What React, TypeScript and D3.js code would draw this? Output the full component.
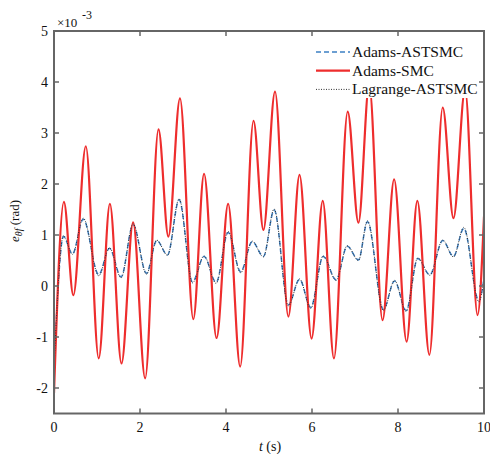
import React from "react";
import * as d3 from "d3";

// Time stamps (s) and tracking error values (×10^-3 rad) at the turning points of each response
const smcT = [0, 0.23, 0.45, 0.74, 1.04, 1.30, 1.57, 1.84, 2.12, 2.43, 2.66, 2.93, 3.24, 3.49, 3.78, 4.05, 4.33, 4.64, 4.87, 5.14, 5.45, 5.71, 5.99, 6.25, 6.51, 6.83, 7.08, 7.33, 7.64, 7.91, 8.20, 8.45, 8.73, 9.04, 9.29, 9.56, 9.85, 10];
const smcV = [-2.1, 1.65, -0.18, 2.74, -1.42, 1.61, -1.52, 1.25, -1.81, 3.07, 0.97, 3.68, -0.65, 2.20, -1.02, 1.61, -1.58, 3.24, 1.10, 3.81, -0.60, 2.18, -1.03, 1.67, -1.42, 3.42, 1.24, 3.95, -0.67, 2.09, -1.09, 1.67, -1.35, 3.50, 1.33, 3.85, -0.57, 1.36];

const adamsT = [0, 0.22, 0.43, 0.68, 1.04, 1.29, 1.56, 1.84, 2.15, 2.39, 2.64, 2.91, 3.22, 3.49, 3.77, 4.05, 4.34, 4.61, 4.87, 5.12, 5.45, 5.71, 5.97, 6.26, 6.56, 6.82, 7.08, 7.29, 7.66, 7.92, 8.19, 8.46, 8.74, 9.04, 9.29, 9.53, 9.88, 10];
const adamsV = [-1.58, 0.97, 0.63, 1.31, 0.22, 0.74, 0.18, 1.20, 0.25, 0.89, 0.61, 1.69, 0.08, 0.58, 0.07, 1.05, 0.28, 0.87, 0.58, 1.49, -0.37, 0.13, -0.42, 0.58, 0.12, 0.78, 0.51, 1.26, -0.46, 0.10, -0.48, 0.54, 0.22, 0.89, 0.58, 1.13, -0.29, 0.15];

const lagT = [0, 0.22, 0.43, 0.68, 1.04, 1.29, 1.56, 1.84, 2.15, 2.39, 2.64, 2.91, 3.22, 3.49, 3.77, 4.05, 4.34, 4.61, 4.87, 5.12, 5.45, 5.71, 5.97, 6.26, 6.56, 6.82, 7.08, 7.29, 7.66, 7.92, 8.19, 8.46, 8.74, 9.04, 9.29, 9.53, 9.88, 10];
const lagV = [-1.62, 0.99, 0.62, 1.33, 0.20, 0.75, 0.16, 1.22, 0.23, 0.90, 0.60, 1.71, 0.06, 0.59, 0.05, 1.07, 0.26, 0.88, 0.57, 1.51, -0.39, 0.14, -0.44, 0.59, 0.11, 0.79, 0.50, 1.28, -0.48, 0.11, -0.50, 0.55, 0.21, 0.90, 0.57, 1.15, -0.31, 0.14];

const xTicks = [0, 2, 4, 6, 8, 10];
const yTicks = [-2, -1, 0, 1, 2, 3, 4, 5];

const legendItems = [
  { label: "Adams-ASTSMC", color: "#3d80c4", width: 1.5, dash: "5,3" },
  { label: "Adams-SMC", color: "#ee2d2d", width: 2.2, dash: "" },
  { label: "Lagrange-ASTSMC", color: "#333333", width: 1, dash: "1,1.5" },
];

const W = 490;
const H = 454;
const left = 54;
const right = 484;
const top = 31;
const bottom = 413.5;

export default function App() {
  const x = d3.scaleLinear().domain([0, 10]).range([left, right]);
  const y = d3.scaleLinear().domain([-2.5, 5]).range([bottom, top]);

  const line = d3
    .line<[number, number]>()
    .x((d) => x(d[0]))
    .y((d) => y(d[1]))
    .curve(d3.curveMonotoneX);

  const zip = (t: number[], v: number[]) => t.map((ti, i) => [ti, v[i]] as [number, number]);

  const series = [
    { d: line(zip(adamsT, adamsV)), ...legendItems[0] },
    { d: line(zip(smcT, smcV)), ...legendItems[1] },
    { d: line(zip(lagT, lagV)), ...legendItems[2] },
  ];

  const font = "'Liberation Serif', 'Times New Roman', serif";
  const frame = "#666";
  const ink = "#111";
  const tickLen = 5;

  return (
    <svg width={W} height={H} style={{ position: "absolute", left: 0, top: 0 }} fontFamily={font}>
      <rect x={0} y={0} width={W} height={H} fill="#fff" />
      <defs>
        <clipPath id="plotArea">
          <rect x={left} y={top} width={right - left} height={bottom - top} />
        </clipPath>
      </defs>

      <g clipPath="url(#plotArea)">
        {series.map((s) => (
          <path
            key={s.label}
            d={s.d || ""}
            fill="none"
            stroke={s.color}
            strokeWidth={s.width}
            strokeDasharray={s.dash}
            strokeLinejoin="round"
          />
        ))}
      </g>

      {/* legend */}
      <g>
        <rect x={312} y={40} width={right - 313} height={58} fill="#fff" />
        {legendItems.map((it, i) => {
          const cy = 52 + i * 18.7;
          return (
            <g key={it.label}>
              <line
                x1={316}
                x2={350}
                y1={cy}
                y2={cy}
                stroke={it.color}
                strokeWidth={it.width}
                strokeDasharray={it.dash}
              />
              <text x={352} y={cy + 5} fontSize={15.5} fill={ink}>
                {it.label}
              </text>
            </g>
          );
        })}
      </g>

      {/* axes frame */}
      <rect x={left} y={top} width={right - left} height={bottom - top} fill="none" stroke={frame} strokeWidth={2} />

      {xTicks.map((t) => (
        <g key={"x" + t}>
          <line x1={x(t)} x2={x(t)} y1={bottom} y2={bottom - tickLen} stroke={frame} strokeWidth={1.5} />
          <line x1={x(t)} x2={x(t)} y1={top} y2={top + tickLen} stroke={frame} strokeWidth={1.5} />
          <text x={x(t)} y={432} fontSize={14} textAnchor="middle" fill={ink}>
            {t}
          </text>
        </g>
      ))}

      {yTicks.map((t) => (
        <g key={"y" + t}>
          <line x1={left} x2={left + tickLen} y1={y(t)} y2={y(t)} stroke={frame} strokeWidth={1.5} />
          <line x1={right} x2={right - tickLen} y1={y(t)} y2={y(t)} stroke={frame} strokeWidth={1.5} />
          <text x={48} y={y(t) + 5} fontSize={14} textAnchor="end" fill={ink}>
            {t}
          </text>
        </g>
      ))}

      {/* exponent */}
      <text x={57} y={27} fontSize={13} fill={ink}>
        ×10
      </text>
      <text x={82} y={19} fontSize={12} fill={ink}>
        -3
      </text>

      {/* axis titles */}
      <text x={270} y={451} fontSize={14} textAnchor="middle" fill={ink}>
        <tspan fontStyle="italic">t</tspan> (s)
      </text>
      <text transform="translate(19,221) rotate(-90)" fontSize={13} textAnchor="middle" fill={ink}>
        <tspan fontStyle="italic">e</tspan>
        <tspan fontStyle="italic" fontSize={10} dy={3}>θf</tspan>
        <tspan dy={-3}> (rad)</tspan>
      </text>
    </svg>
  );
}
